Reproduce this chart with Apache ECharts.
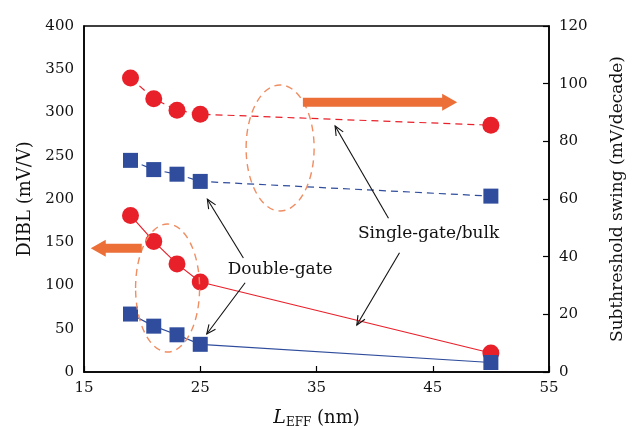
<!DOCTYPE html>
<html>
<head>
<meta charset="utf-8">
<script src="https://cdn.jsdelivr.net/npm/echarts@6/dist/echarts.min.js"></script>
<style>html,body{margin:0;padding:0;background:#fff}#c{width:640px;height:427px}</style>
</head>
<body>
<div id="c"></div>
<script>
// ---- data ----
const lengths = [19, 21, 23, 25, 50];              // L_EFF (nm)
const dibl_bulk = [181, 151, 125, 104, 22];        // DIBL single-gate/bulk (mV/V)
const dibl_dg = [67, 53, 43, 32, 11];              // DIBL double-gate (mV/V)
const ss_bulk = [102, 94.8, 90.8, 89.4, 85.6];     // SS single-gate/bulk (mV/decade)
const ss_dg = [73.4, 70.2, 68.6, 66.1, 61];        // SS double-gate (mV/decade)

const RED = '#e8202a', BLUE = '#2f4d9c', ORANGE = '#ec6f38', OR_LIGHT = '#f08d62';
const FONT = 'DejaVu Serif';

const pairs = (ys) => lengths.map((x, i) => [x, ys[i]]);

const chart = echarts.init(document.getElementById('c'));
chart.setOption({
  animation: false,
  backgroundColor: '#fff',
  grid: { left: 84, right: 91, top: 26, bottom: 55, show: true, borderColor: '#000', borderWidth: 1.5,
          containLabel: false, outerBoundsMode: 'none' },
  xAxis: {
    type: 'value', min: 15, max: 55, interval: 10,
    name: '{i|L}{s|EFF} {n|(nm)}', nameLocation: 'middle', nameGap: 36,
    nameTextStyle: { fontFamily: FONT, fontSize: 18, color: '#111',
      rich: { i: { fontFamily: FONT, fontStyle: 'italic', fontSize: 19, color: '#111' },
              n: { fontFamily: FONT, fontSize: 18, color: '#111' },
              s: { fontFamily: FONT, fontSize: 12, color: '#111', verticalAlign: 'bottom', padding: [9, 0, 0, 0] } } },
    axisLine: { lineStyle: { color: '#000', width: 1.5 } },
    axisTick: { inside: true, length: 6, lineStyle: { color: '#000', width: 1.2 } },
    axisLabel: { fontFamily: FONT, fontSize: 15, color: '#111', margin: 9 },
    splitLine: { show: false }
  },
  yAxis: [
    {
      type: 'value', min: 0, max: 400, interval: 50,
      name: 'DIBL (mV/V)', nameLocation: 'middle', nameGap: 50, nameRotate: 90,
      nameTextStyle: { fontFamily: FONT, fontSize: 18, color: '#111' },
      axisLine: { show: true, lineStyle: { color: '#000', width: 1.5 } },
      axisTick: { show: false },
      axisLabel: { fontFamily: FONT, fontSize: 15, color: '#111', margin: 10 },
      splitLine: { show: false }
    },
    {
      type: 'value', min: 0, max: 120, interval: 20, position: 'right',
      name: 'Subthreshold swing (mV/decade)', nameLocation: 'middle', nameGap: 60, nameRotate: 90,
      nameTextStyle: { fontFamily: FONT, fontSize: 17, color: '#111' },
      axisLine: { show: true, lineStyle: { color: '#000', width: 1.5 } },
      axisTick: { show: true, inside: true, length: 6, lineStyle: { color: '#000', width: 1.2 } },
      axisLabel: { fontFamily: FONT, fontSize: 15, color: '#111', margin: 10 },
      splitLine: { show: false }
    }
  ],
  series: [
    { name: 'SS bulk', type: 'line', yAxisIndex: 1, data: pairs(ss_bulk),
      symbol: 'circle', symbolSize: 17, itemStyle: { color: RED },
      lineStyle: { color: RED, width: 1.2, type: [7, 5] } },
    { name: 'SS DG', type: 'line', yAxisIndex: 1, data: pairs(ss_dg),
      symbol: 'rect', symbolSize: 15, itemStyle: { color: BLUE },
      lineStyle: { color: BLUE, width: 1.2, type: [7, 5] } },
    { name: 'DIBL bulk', type: 'line', yAxisIndex: 0, data: pairs(dibl_bulk),
      symbol: 'circle', symbolSize: 17, itemStyle: { color: RED },
      lineStyle: { color: RED, width: 1.2 } },
    { name: 'DIBL DG', type: 'line', yAxisIndex: 0, data: pairs(dibl_dg),
      symbol: 'rect', symbolSize: 15, itemStyle: { color: BLUE },
      lineStyle: { color: BLUE, width: 1.2 } }
  ]
});

// ---- annotations (data coordinates on L_EFF / DIBL axes) ----
const P = (x, y) => chart.convertToPixel({ xAxisIndex: 0, yAxisIndex: 0 }, [x, y]);
const ellipses = [ { c: [31.87, 259], rx: 34, ry: 63 }, { c: [22.19, 97.1], rx: 32, ry: 64 } ];
const bigArrows = [ { from: [33.83, 311.8], to: [47.1, 311.8] }, { from: [19.97, 143], to: [15.58, 143] } ];
const thinArrows = [
  { from: [28.71, 131.8], to: [25.61, 199.7] },
  { from: [28.86, 103.2], to: [25.56, 43.9] },
  { from: [41.19, 177.7], to: [36.6, 284.4] },
  { from: [42.14, 137.9], to: [38.47, 54.3] }
];
const labels = [ { t: 'Double-gate', at: [31.87, 117.9] }, { t: 'Single-gate/bulk', at: [44.64, 160.3] } ];

const g = [];
ellipses.forEach(e => {
  const c = P(e.c[0], e.c[1]);
  g.push({ type: 'ellipse', shape: { cx: c[0], cy: c[1], rx: e.rx, ry: e.ry },
    style: { fill: null, stroke: OR_LIGHT, lineWidth: 1.4, lineDash: [7, 5] }, z: 10 });
});
bigArrows.forEach(a => {
  const f = P(a.from[0], a.from[1]), t = P(a.to[0], a.to[1]);
  const dir = Math.sign(t[0] - f[0]);
  const y = f[1], hs = 4.5, hh = 8.5, hl = 15;
  const hx = t[0] - dir * hl;
  g.push({ type: 'polygon', shape: { points: [[f[0], y - hs], [hx, y - hs], [hx, y - hh], [t[0], y], [hx, y + hh], [hx, y + hs], [f[0], y + hs]] },
    style: { fill: ORANGE }, z: 10 });
});
thinArrows.forEach(a => {
  const f = P(a.from[0], a.from[1]), t = P(a.to[0], a.to[1]);
  const ang = Math.atan2(f[1] - t[1], f[0] - t[0]);
  const L = 10, w = 0.42;
  const p1 = [t[0] + L * Math.cos(ang + w), t[1] + L * Math.sin(ang + w)];
  const p2 = [t[0] + L * Math.cos(ang - w), t[1] + L * Math.sin(ang - w)];
  g.push({ type: 'line', shape: { x1: f[0], y1: f[1], x2: t[0], y2: t[1] }, style: { stroke: '#111', lineWidth: 1.1 }, z: 10 });
  g.push({ type: 'polyline', shape: { points: [p1, t, p2] }, style: { stroke: '#111', lineWidth: 1.1, fill: null }, z: 10 });
});
labels.forEach(l => {
  const p = P(l.at[0], l.at[1]);
  g.push({ type: 'text', x: p[0], y: p[1], style: { text: l.t, fontFamily: FONT, fontSize: 17, fill: '#111', align: 'center', verticalAlign: 'middle', backgroundColor: '#fff' }, z: 11 });
});
chart.setOption({ graphic: g });
</script>
</body>
</html>
